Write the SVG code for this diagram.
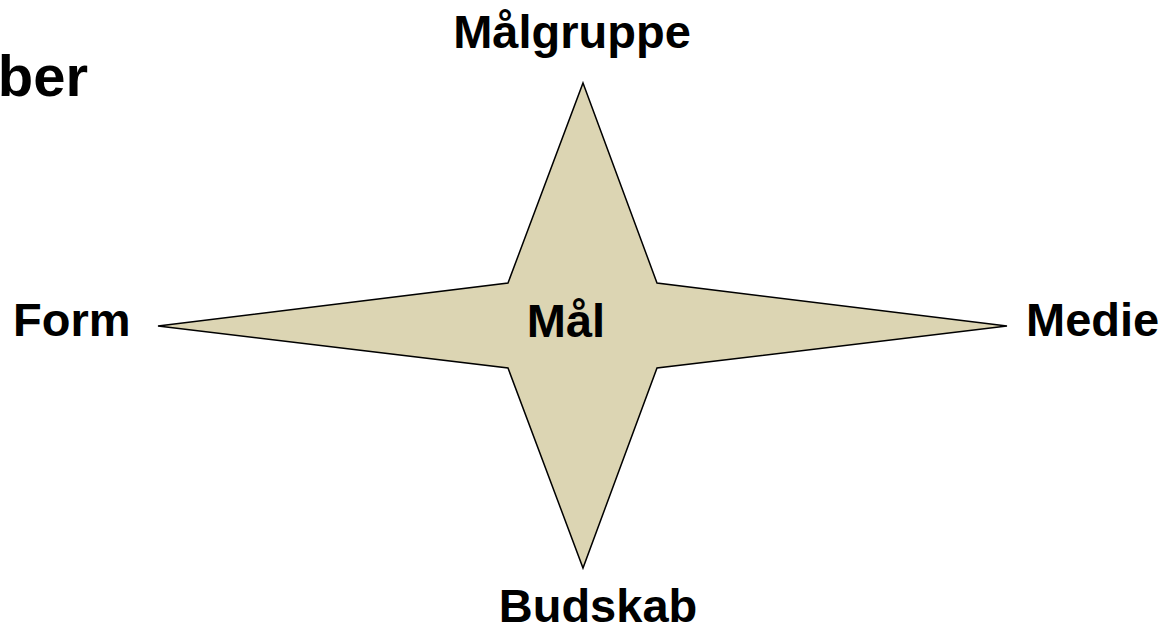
<svg xmlns="http://www.w3.org/2000/svg" width="1165" height="628" viewBox="0 0 1165 628">
<style>
.t{font-family:"Liberation Sans",Arial,sans-serif;font-weight:bold;font-size:47px;fill:#000}
.star{fill:#DCD5B3;stroke:#000;stroke-width:1.5;stroke-linejoin:miter}
</style>
<rect width="1165" height="628" fill="#fff"/>
<text class="t" x="88" y="96" text-anchor="end" style="font-size:58px">ber</text>
<g id="star">
<polygon class="star" points="583,83 657,283 1007,326 657,368 583,568 508,368 158,326 508,283"/>
<text class="t" x="566" y="337" text-anchor="middle">Mål</text>
</g>
<g id="maalgruppe"><text class="t" x="572" y="48" text-anchor="middle">Målgruppe</text></g>
<g id="form"><text class="t" x="13" y="336">Form</text></g>
<g id="medie"><text class="t" x="1026" y="336">Medie</text></g>
<g id="budskab"><text class="t" x="598" y="622" text-anchor="middle">Budskab</text></g>
<g id="connectors"/>
</svg>
